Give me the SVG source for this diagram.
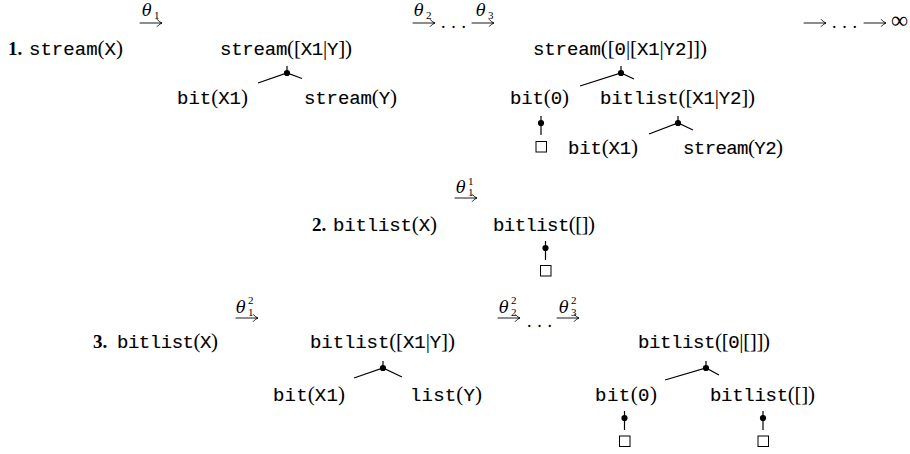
<svg xmlns="http://www.w3.org/2000/svg" xmlns:xlink="http://www.w3.org/1999/xlink" width="910" height="454" viewBox="0 0 910 454">
  <defs>
    <style>
      text { fill: #000; }
      .tt { font-family: "Liberation Mono", "DejaVu Sans Mono", monospace; font-size: 19px; stroke: #000; stroke-width: 0.15px; }
      .r { font-family: "Liberation Serif", serif; stroke: none; font-size: 21px; }
      .num { font-family: "Liberation Serif", serif; font-weight: bold; font-size: 19px; }
      .th { font-family: "DejaVu Serif", "Liberation Serif", serif; font-style: italic; font-size: 16px; }
      .ix { font-family: "Liberation Serif", serif; font-size: 11px; }
      .dots { font-family: "Liberation Serif", serif; font-size: 18px; }
      .ln { stroke: #000; stroke-width: 1.2; fill: none; }
      .arw { stroke: #000; stroke-width: 0.9; fill: none; stroke-linecap: round; }
      .box { stroke: #000; stroke-width: 1; fill: none; }
    </style>
    <!-- rightwards arrow, 22px long, drawn from the origin -->
    <path id="arr" class="arw" d="M0 0H21.5M17.3 -3.4Q19.2 -0.9 22 0Q19.2 0.9 17.3 3.4"/>
    <!-- branch point: small tick above a filled dot -->
    <g id="knot">
      <line x1="0" y1="-7" x2="0" y2="0" class="ln"/>
      <circle cx="0" cy="0" r="3.1" fill="#000"/>
    </g>
  </defs>

  <rect width="910" height="454" fill="#fff"/>

  <!-- ===== derivation 1 ===== -->
  <g id="label-1">
    <text class="num" x="8" y="55">1.</text>
    <text class="tt" x="29" y="55" textLength="94" lengthAdjust="spacing">stream<tspan class="r">(</tspan>X<tspan class="r">)</tspan></text>
  </g>
  <g id="step-theta1">
    <text class="th" x="142" y="16">θ</text><text class="ix" x="154" y="19">1</text>
    <use xlink:href="#arr" x="140" y="23"/>
  </g>
  <g id="n1-root">
    <text class="tt" x="220" y="55" textLength="132" lengthAdjust="spacing">stream<tspan class="r">([</tspan>X1<tspan class="r">|</tspan>Y<tspan class="r">])</tspan></text>
  </g>
  <g id="n1-bit">
    <text class="tt" x="177" y="104" textLength="71" lengthAdjust="spacing">bit<tspan class="r">(</tspan>X1<tspan class="r">)</tspan></text>
  </g>
  <g id="n1-stream">
    <text class="tt" x="304" y="104" textLength="93" lengthAdjust="spacing">stream<tspan class="r">(</tspan>Y<tspan class="r">)</tspan></text>
  </g>
  <g id="step-theta2-theta3">
    <text class="th" x="414" y="16">θ</text><text class="ix" x="426" y="19">2</text>
    <use xlink:href="#arr" x="413" y="23"/>
    <text class="dots" x="441" y="28" textLength="25" lengthAdjust="spacing">...</text>
    <text class="th" x="476" y="16">θ</text><text class="ix" x="488" y="19">3</text>
    <use xlink:href="#arr" x="472" y="23"/>
  </g>
  <g id="n1b-root">
    <text class="tt" x="533" y="55" textLength="174" lengthAdjust="spacing">stream<tspan class="r">([</tspan>0<tspan class="r">|[</tspan>X1<tspan class="r">|</tspan>Y2<tspan class="r">]])</tspan></text>
  </g>
  <g id="n1b-bit0">
    <text class="tt" x="510" y="104" textLength="59" lengthAdjust="spacing">bit<tspan class="r">(</tspan>0<tspan class="r">)</tspan></text>
  </g>
  <g id="n1b-bitlist">
    <text class="tt" x="600" y="104" textLength="155" lengthAdjust="spacing">bitlist<tspan class="r">([</tspan>X1<tspan class="r">|</tspan>Y2<tspan class="r">])</tspan></text>
  </g>
  <g id="n1b-box">
    <rect class="box" x="536" y="141.5" width="10.5" height="10.5"/>
  </g>
  <g id="n1b-bitx1">
    <text class="tt" x="568" y="154" textLength="70" lengthAdjust="spacing">bit<tspan class="r">(</tspan>X1<tspan class="r">)</tspan></text>
  </g>
  <g id="n1b-stream">
    <text class="tt" x="683" y="154" textLength="100" lengthAdjust="spacing">stream<tspan class="r">(</tspan>Y2<tspan class="r">)</tspan></text>
  </g>
  <g id="step-infinite">
    <use xlink:href="#arr" x="804" y="23"/>
    <text class="dots" x="832" y="28" textLength="25" lengthAdjust="spacing">...</text>
    <use xlink:href="#arr" x="864" y="23"/>
    <text class="r" x="891" y="28" style="font-size:24px">∞</text>
  </g>

  <!-- ===== derivation 2 ===== -->
  <g id="label-2">
    <text class="num" x="312" y="231">2.</text>
    <text class="tt" x="333" y="231" textLength="104" lengthAdjust="spacing">bitlist<tspan class="r">(</tspan>X<tspan class="r">)</tspan></text>
  </g>
  <g id="step2-theta">
    <text class="th" x="456" y="193">θ</text><text class="ix" x="468" y="185">1</text><text class="ix" x="468" y="196">1</text>
    <use xlink:href="#arr" x="455" y="198"/>
  </g>
  <g id="n2-root">
    <text class="tt" x="493" y="231" textLength="102" lengthAdjust="spacing">bitlist<tspan class="r">([])</tspan></text>
  </g>
  <g id="n2-box">
    <rect class="box" x="540.5" y="265.5" width="10.5" height="10.5"/>
  </g>

  <!-- ===== derivation 3 ===== -->
  <g id="label-3">
    <text class="num" x="93" y="348">3.</text>
    <text class="tt" x="117" y="348" textLength="101" lengthAdjust="spacing">bitlist<tspan class="r">(</tspan>X<tspan class="r">)</tspan></text>
  </g>
  <g id="step3-theta1">
    <text class="th" x="236" y="313">θ</text><text class="ix" x="248" y="304">2</text><text class="ix" x="248" y="316">1</text>
    <use xlink:href="#arr" x="236" y="318"/>
  </g>
  <g id="n3-root">
    <text class="tt" x="310" y="348" textLength="145" lengthAdjust="spacing">bitlist<tspan class="r">([</tspan>X1<tspan class="r">|</tspan>Y<tspan class="r">])</tspan></text>
  </g>
  <g id="n3-bit">
    <text class="tt" x="273" y="401" textLength="72" lengthAdjust="spacing">bit<tspan class="r">(</tspan>X1<tspan class="r">)</tspan></text>
  </g>
  <g id="n3-list">
    <text class="tt" x="410" y="401" textLength="72" lengthAdjust="spacing">list<tspan class="r">(</tspan>Y<tspan class="r">)</tspan></text>
  </g>
  <g id="step3-theta2-theta3">
    <text class="th" x="499" y="313">θ</text><text class="ix" x="511" y="304">2</text><text class="ix" x="511" y="316">2</text>
    <use xlink:href="#arr" x="498" y="318"/>
    <text class="dots" x="527" y="327" textLength="25" lengthAdjust="spacing">...</text>
    <text class="th" x="559" y="313">θ</text><text class="ix" x="571" y="304">2</text><text class="ix" x="571" y="316">3</text>
    <use xlink:href="#arr" x="557" y="318"/>
  </g>
  <g id="n3b-root">
    <text class="tt" x="638" y="348" textLength="132" lengthAdjust="spacing">bitlist<tspan class="r">([</tspan>0<tspan class="r">|[]])</tspan></text>
  </g>
  <g id="n3b-bit0">
    <text class="tt" x="595" y="401" textLength="62" lengthAdjust="spacing">bit<tspan class="r">(</tspan>0<tspan class="r">)</tspan></text>
  </g>
  <g id="n3b-bitlist">
    <text class="tt" x="710" y="401" textLength="105" lengthAdjust="spacing">bitlist<tspan class="r">([])</tspan></text>
  </g>
  <g id="n3b-box1">
    <rect class="box" x="619.5" y="436" width="10.5" height="10.5"/>
  </g>
  <g id="n3b-box2">
    <rect class="box" x="758" y="436" width="10.5" height="10.5"/>
  </g>

  <!-- ===== tree connectors ===== -->
  <g id="connectors">
    <!-- stream([X1|Y]) -> bit(X1), stream(Y) -->
    <path class="ln" d="M258 83L287 73L302 78.5"/>
    <use xlink:href="#knot" x="287" y="73"/>
    <!-- stream([0|[X1|Y2]]) -> bit(0), bitlist([X1|Y2]) -->
    <path class="ln" d="M580 86L621 73L634 79"/>
    <use xlink:href="#knot" x="621" y="73"/>
    <!-- bit(0) -> empty -->
    <line class="ln" x1="541" y1="123" x2="541" y2="135"/>
    <use xlink:href="#knot" x="541" y="123"/>
    <!-- bitlist([X1|Y2]) -> bit(X1), stream(Y2) -->
    <path class="ln" d="M649 134L678 123L693 130"/>
    <use xlink:href="#knot" x="678" y="123"/>
    <!-- bitlist([]) -> empty -->
    <line class="ln" x1="545.5" y1="248" x2="545.5" y2="260"/>
    <use xlink:href="#knot" x="545.5" y="248"/>
    <!-- bitlist([X1|Y]) -> bit(X1), list(Y) -->
    <path class="ln" d="M354 378L383 368L402 377"/>
    <use xlink:href="#knot" x="383" y="368"/>
    <!-- bitlist([0|[]]) -> bit(0), bitlist([]) -->
    <path class="ln" d="M665 380L706 368L719 375"/>
    <use xlink:href="#knot" x="706" y="368"/>
    <!-- bit(0) -> empty, bitlist([]) -> empty -->
    <line class="ln" x1="624.5" y1="418" x2="624.5" y2="430"/>
    <use xlink:href="#knot" x="624.5" y="418"/>
    <line class="ln" x1="763" y1="418" x2="763" y2="430"/>
    <use xlink:href="#knot" x="763" y="418"/>
  </g>
</svg>
